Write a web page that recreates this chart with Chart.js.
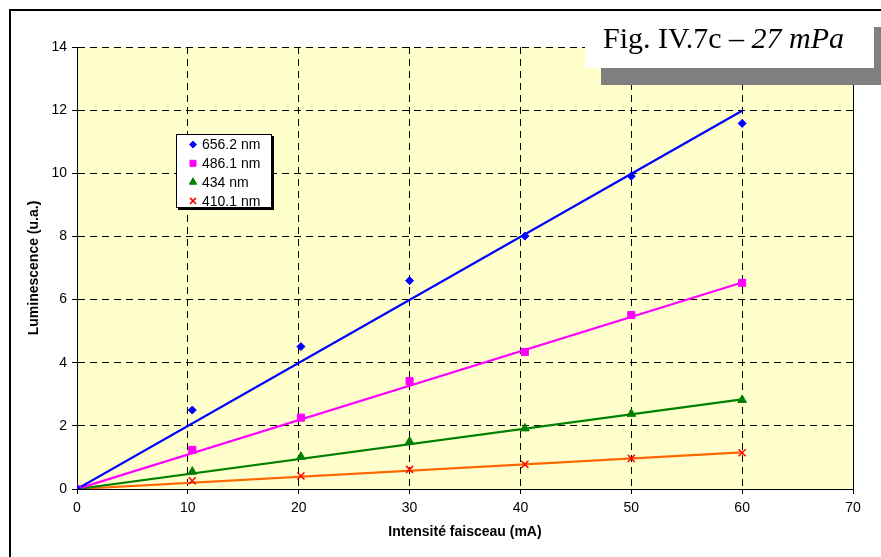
<!DOCTYPE html>
<html>
<head>
<meta charset="utf-8">
<script src="https://cdn.jsdelivr.net/npm/chart.js"></script>
<style>
  html, body { margin: 0; padding: 0; background: #fff; }
  canvas { display: block; }
</style>
</head>
<body>
<canvas id="chart" width="881" height="557"></canvas>
<script>
// beam current (mA) for each measurement
const current = [0, 10.4, 20.2, 30, 40.4, 50, 60];

// luminescence (u.a.) per spectral line
const lum656 = [0, 2.50, 4.51, 6.60, 8.01, 9.91, 11.58];
const lum486 = [0, 1.24, 2.26, 3.42, 4.34, 5.51, 6.53];
const lum434 = [0, 0.55, 1.02, 1.50, 1.92, 2.38, 2.82];
const lum410 = [0, 0.26, 0.41, 0.62, 0.78, 0.97, 1.15];

// linear trendlines (start / end values)
const trendX = [0, 60];
const trend656 = [0, 11.98];
const trend486 = [0, 6.54];
const trend434 = [0, 2.84];
const trend410 = [0, 1.16];

const seriesNames = ['656.2 nm', '486.1 nm', '434 nm', '410.1 nm'];
const figTitle = 'Fig. IV.7c \u2013 ';
const figTitleItalic = '27 mPa';

const pts = (xs, ys) => xs.map((x, i) => ({ x: x, y: ys[i] }));

const markerStyles = [
  { pointStyle: 'rectRot', color: '#0000FF', radius: 4 },
  { pointStyle: 'rect', color: '#FF00FF', radius: 5 },
  { pointStyle: 'triangle', color: '#008000', radius: 5 },
  { pointStyle: 'crossRot', color: '#FF0000', radius: 5 }
];
const lineColors = ['#0000FF', '#FF00FF', '#008000', '#FF6600'];
const seriesValues = [lum656, lum486, lum434, lum410];
const trendValues = [trend656, trend486, trend434, trend410];

const datasets = [];
seriesValues.forEach((vals, i) => {
  const m = markerStyles[i];
  datasets.push({
    label: seriesNames[i],
    data: pts(current, vals),
    showLine: false,
    pointStyle: m.pointStyle,
    pointRadius: m.radius,
    pointBackgroundColor: m.color,
    pointBorderColor: m.color,
    pointBorderWidth: m.pointStyle === 'crossRot' ? 1.5 : 1,
    order: 1
  });
});
trendValues.forEach((vals, i) => {
  datasets.push({
    label: 'trend ' + seriesNames[i],
    data: pts(trendX, vals),
    showLine: true,
    borderColor: lineColors[i],
    borderWidth: 2.2,
    pointRadius: 0,
    order: 2
  });
});

const frame = {
  id: 'frame',
  beforeDraw(chart) {
    const { ctx, chartArea: a } = chart;
    ctx.save();
    ctx.fillStyle = '#FFFFCC';
    ctx.fillRect(a.left, a.top, a.right - a.left, a.bottom - a.top);
    ctx.restore();
  },
  afterDraw(chart) {
    const { ctx, chartArea: a } = chart;
    ctx.save();
    // right border of plot
    ctx.strokeStyle = '#000';
    ctx.lineWidth = 1;
    ctx.beginPath();
    ctx.moveTo(a.right + 0.5, a.top);
    ctx.lineTo(a.right + 0.5, a.bottom);
    ctx.stroke();

    // outer frame (left and top edges visible)
    ctx.lineWidth = 2;
    ctx.beginPath();
    ctx.moveTo(10, 557);
    ctx.lineTo(10, 10);
    ctx.lineTo(881, 10);
    ctx.stroke();

    // figure label with shadow
    ctx.fillStyle = '#808080';
    ctx.fillRect(601, 27, 280, 58);
    ctx.fillStyle = '#fff';
    ctx.fillRect(585, 11, 289, 57);
    ctx.fillStyle = '#000';
    ctx.textBaseline = 'alphabetic';
    ctx.font = '30px "Liberation Serif", "Times New Roman", serif';
    ctx.fillText(figTitle, 603, 48);
    const w = ctx.measureText(figTitle).width;
    ctx.font = 'italic 30px "Liberation Serif", "Times New Roman", serif';
    ctx.fillText(figTitleItalic, 603 + w, 48);

    // legend box
    const lx = 176, ly = 134, lw = 96, lh = 74;
    ctx.fillStyle = '#000';
    ctx.fillRect(lx + 2, ly + 2, lw, lh);
    ctx.fillStyle = '#fff';
    ctx.fillRect(lx, ly, lw, lh);
    ctx.strokeStyle = '#000';
    ctx.lineWidth = 1;
    ctx.strokeRect(lx + 0.5, ly + 0.5, lw - 1, lh - 1);
    ctx.font = '14px "Liberation Sans", Arial, sans-serif';
    ctx.textBaseline = 'middle';
    seriesNames.forEach((name, i) => {
      const y = ly + 10.5 + i * 18.8;
      const m = markerStyles[i];
      ctx.fillStyle = m.color;
      ctx.strokeStyle = m.color;
      ctx.lineWidth = m.pointStyle === 'crossRot' ? 1.5 : 1;
      Chart.helpers.drawPoint(ctx, {
        pointStyle: m.pointStyle,
        radius: m.radius * 0.85,
        rotation: 0,
        borderWidth: ctx.lineWidth
      }, 193, y);
      ctx.fillStyle = '#000';
      ctx.fillText(name, 202, y + 1);
    });
    ctx.restore();
  }
};

const gridOpts = {
  color: '#000',
  lineWidth: 1,
  tickLength: 5,
  tickColor: '#000',
  tickBorderDash: [],
  tickWidth: 1
};
const tickFont = { family: '"Liberation Sans", Arial, sans-serif', size: 14 };
const titleFont = { family: '"Liberation Sans", Arial, sans-serif', size: 14, weight: 'bold' };

new Chart(document.getElementById('chart'), {
  type: 'scatter',
  data: { datasets: datasets },
  options: {
    responsive: false,
    animation: false,
    devicePixelRatio: 1,
    layout: { padding: { left: 10, top: 47, right: 28, bottom: 0 } },
    plugins: {
      legend: { display: false },
      tooltip: { enabled: false }
    },
    scales: {
      x: {
        type: 'linear',
        min: 0,
        max: 70,
        afterFit(scale) { scale.height = 68; },
        ticks: { stepSize: 10, color: '#000', padding: 6, font: tickFont },
        grid: gridOpts,
        border: { color: '#000', width: 1, dash: [7, 5] },
        title: {
          display: true,
          text: 'Intensité faisceau (mA)',
          color: '#000',
          padding: { top: 0, bottom: 16 },
          font: titleFont
        }
      },
      y: {
        type: 'linear',
        min: 0,
        max: 14,
        afterFit(scale) { scale.width = 67; },
        ticks: { stepSize: 2, color: '#000', padding: 5, font: tickFont },
        grid: gridOpts,
        border: { color: '#000', width: 1, dash: [7, 5] },
        title: {
          display: true,
          text: 'Luminescence (u.a.)',
          color: '#000',
          padding: { top: 16, bottom: 0 },
          font: titleFont
        }
      }
    }
  },
  plugins: [frame]
});
</script>
</body>
</html>
